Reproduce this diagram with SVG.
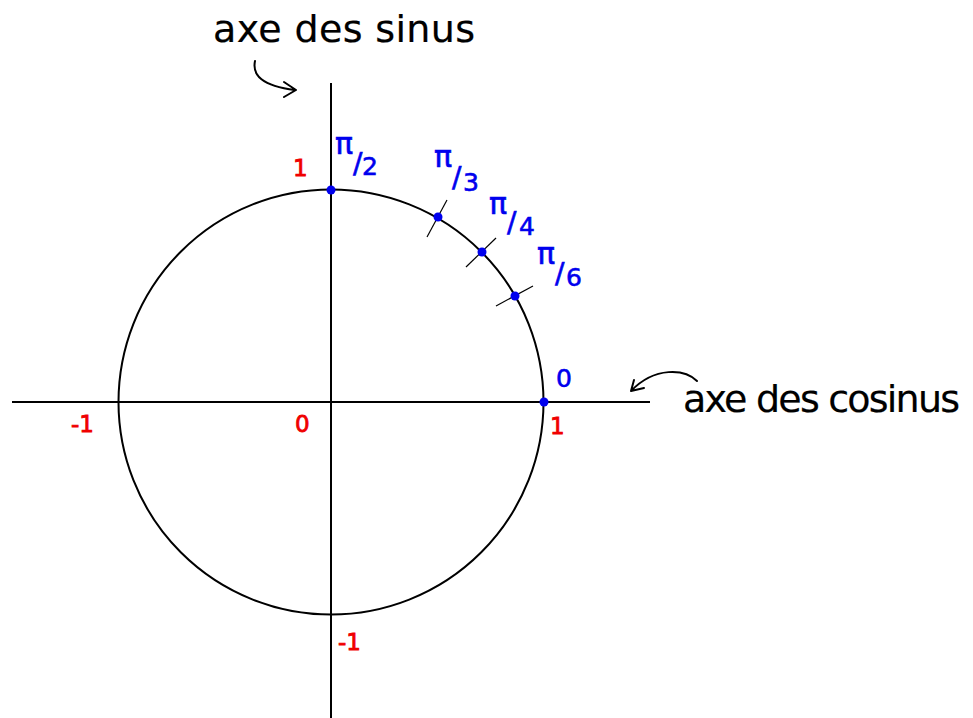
<svg xmlns="http://www.w3.org/2000/svg" width="973" height="718" viewBox="0 0 973 718">
<style>
.ax{stroke:#000;stroke-width:2;fill:none}
.tick{stroke:#000;stroke-width:1.2}
.dot{fill:#0000ee}
.red{fill:#f00000;stroke:#f00000;stroke-width:0.8;font-family:"DejaVu Sans",sans-serif;font-size:23px}
.blue{fill:#0000ee;stroke:#0000ee;stroke-width:0.6;font-family:"DejaVu Sans",sans-serif;font-size:25px}
.pi{font-size:30px}
.sl{font-size:28px}
.lab{fill:#000;stroke:#000;stroke-width:0.2;font-family:"DejaVu Sans",sans-serif;font-size:38px}
.arr{stroke:#000;stroke-width:2;fill:none;stroke-linecap:round;stroke-linejoin:round}
</style>
<rect width="973" height="718" fill="#fff"/>
<g id="axes">
<line class="ax" x1="331" y1="83" x2="331" y2="718"/>
<line class="ax" x1="12" y1="402" x2="650" y2="402"/>
</g>
<g id="circle">
<circle class="ax" cx="331" cy="402" r="212.5"/>
</g>
<g id="connectors">
<path class="arr" d="M255 61 C252 75 262 86 295 90 M284 82 L296 90 L284 97"/>
<path class="arr" d="M697 381 C685 369 655 366 631 391 M634 380 L631 391 L644 388"/>
</g>
<g id="ticks">
<line class="tick" x1="427" y1="237" x2="447" y2="200"/>
<line class="tick" x1="466" y1="267" x2="496" y2="238"/>
<line class="tick" x1="496" y1="306" x2="533" y2="286"/>
</g>
<g id="points">
<circle class="dot" cx="331" cy="190" r="4.5"/>
<circle class="dot" cx="438" cy="217" r="4.5"/>
<circle class="dot" cx="482" cy="252" r="4.5"/>
<circle class="dot" cx="515" cy="296" r="4.5"/>
<circle class="dot" cx="544" cy="402" r="4.5"/>
</g>
<g id="labels-blue">
<text class="blue"><tspan class="pi" x="335" y="154">π</tspan><tspan class="sl" x="353" y="173">/</tspan><tspan x="362" y="175">2</tspan></text>
<text class="blue"><tspan class="pi" x="434" y="167">π</tspan><tspan class="sl" x="452" y="187">/</tspan><tspan x="463" y="191">3</tspan></text>
<text class="blue"><tspan class="pi" x="489" y="214">π</tspan><tspan class="sl" x="507" y="232">/</tspan><tspan x="519" y="235">4</tspan></text>
<text class="blue"><tspan class="pi" x="537" y="264">π</tspan><tspan class="sl" x="555" y="283">/</tspan><tspan x="566" y="286">6</tspan></text>
<text class="blue" x="556" y="387">0</text>
</g>
<g id="labels-red">
<text class="red" x="293" y="176">1</text>
<text class="red" x="71" y="432">-1</text>
<text class="red" x="295" y="432">0</text>
<text class="red" x="550" y="434">1</text>
<text class="red" x="338" y="650">-1</text>
</g>
<g id="titles">
<text class="lab" x="213" y="42" textLength="262" lengthAdjust="spacing">axe des sinus</text>
<text class="lab" x="683" y="412" textLength="277" lengthAdjust="spacing">axe des cosinus</text>
</g>
</svg>
